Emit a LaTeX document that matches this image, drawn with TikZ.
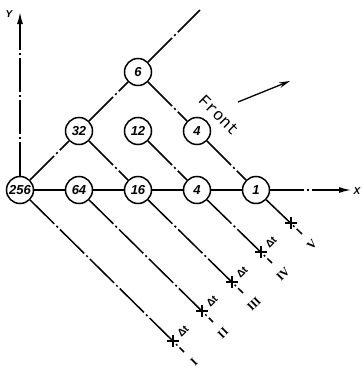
\documentclass[tikz,border=0pt]{standalone}
\usepackage{fontspec}
\usetikzlibrary{calc,arrows.meta}
\newfontfamily\lblfont{Liberation Sans}
\newfontfamily\romfont{Liberation Serif}
\newfontfamily\frontfont{Liberation Mono}
\begin{document}
\begin{tikzpicture}[x=1pt,y=-1pt,
  cl/.style={line width=1.5pt, dash pattern=on 34pt off 3pt on 2pt off 3pt},
  num/.style={circle, draw, line width=1.5pt, minimum size=27pt, inner sep=0pt, fill=white,
    font=\lblfont\bfseries\itshape\fontsize{13}{13}\selectfont},
  roman/.style={font=\romfont\bfseries\fontsize{12}{12}\selectfont, rotate=45, inner sep=0pt},
  dt/.style={font=\lblfont\bfseries\fontsize{10.5}{10.5}\selectfont, rotate=45, inner sep=0pt},
  axlab/.style={font=\lblfont\bfseries\itshape\fontsize{10}{10}\selectfont, inner sep=0pt},
  tip/.style={-{Latex[length=12pt,width=6pt]}},
  mk/.style={line width=1.3pt}]
\useasboundingbox (0,0) rectangle (362,370);
% nodes
\node[num] (n256) at (20,190) {256};
\node[num] (n64) at (79,190) {64};
\node[num] (n16) at (138,190) {16};
\node[num] (n4b) at (197,190) {4};
\node[num] (n1) at (256,190) {1};
\node[num] (n32) at (79,131) {32};
\node[num] (n12) at (138,131) {12};
\node[num] (n4a) at (197,131) {4};
\node[num] (n6) at (138,72) {6};
% free ends
\coordinate (ytop) at (20,12);
\coordinate (xend) at (351,190);
\coordinate (dtop) at (200,10);
\coordinate (m0) at (173,341);
\coordinate (m1) at (202,311);
\coordinate (m2) at (232,282);
\coordinate (m3) at (261,252);
\coordinate (m4) at (291,223);
\foreach \i in {0,...,4}{
  \coordinate (e\i) at ($(m\i)+(11,11)$);
}
% axes
\draw[cl,tip] (n256) -- (ytop);
\draw[cl] (n256) -- (n64);
\draw[cl] (n64) -- (n16);
\draw[cl] (n16) -- (n4b);
\draw[cl] (n4b) -- (n1);
\draw[cl,tip] (n1) -- (xend);
\node[axlab] (ylab) at (9,14) {Y};
\node[axlab] (xlab) at (357,191) {X};
% up-right diagonal
\draw[cl] (n256) -- (n32);
\draw[cl] (n32) -- (n6);
\draw[cl] (n6) -- (dtop);
% down-right lines
\draw[cl] (n256) -- (e0);
\draw[cl] (n64) -- (e1);
\draw[cl] (n32) -- (n16);
\draw[cl] (n16) -- (e2);
\draw[cl] (n12) -- (n4b);
\draw[cl] (n4b) -- (e3);
\draw[cl] (n6) -- (n4a);
\draw[cl] (n4a) -- (n1);
\draw[cl] (n1) -- (e4);
% markers
\foreach \i in {0,...,4}{
  \draw[mk] ($(m\i)+(-6,0)$) -- ($(m\i)+(6,0)$);
  \draw[mk] ($(m\i)+(0,-6)$) -- ($(m\i)+(0,6)$);
}
\foreach \i in {0,...,3}{
  \node[dt] (dt\i) at ($(m\i)+(10,-10)$) {Δt};
}
\node[roman] (r0) at ($(m0)+(21,21)$) {I};
\node[roman] (r1) at ($(m1)+(21,22)$) {II};
\node[roman] (r2) at ($(m2)+(22,22)$) {III};
\node[roman] (r3) at ($(m3)+(22,22)$) {IV};
\node[roman] (r4) at ($(m4)+(21,22)$) {V};
% Front
\node[rotate=-45, font=\frontfont\fontsize{16.5}{16.5}\selectfont, inner sep=0pt] (front) at (219,115) {Front};
\coordinate (fa) at (238,102);
\coordinate (fb) at (290,81);
\draw[line width=1.3pt,-{Stealth[length=11pt,width=5.5pt]}] (fa) -- (fb);
\end{tikzpicture}
\end{document}
